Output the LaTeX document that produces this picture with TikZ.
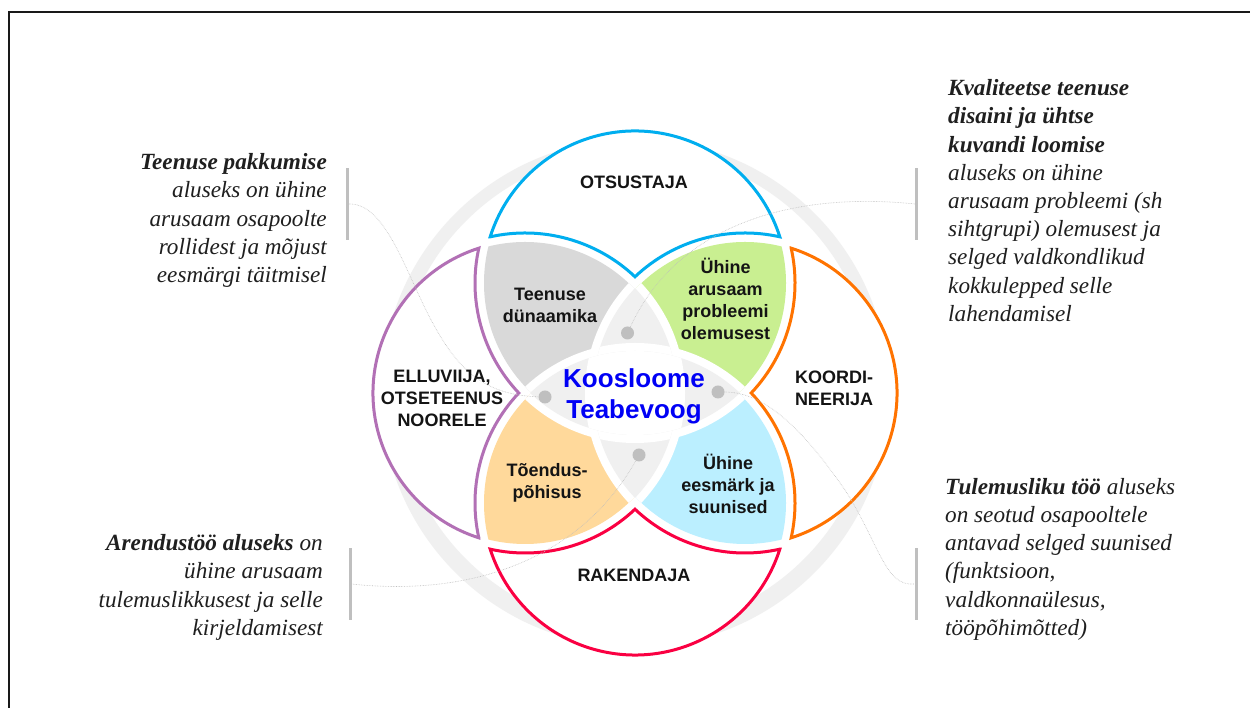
\documentclass[tikz,border=0pt]{standalone}
\usepackage{fontspec}
\setmainfont{Liberation Serif}
\setsansfont{Liberation Sans}
\definecolor{ringgrey}{HTML}{F0F0F0}
\definecolor{dotgrey}{HTML}{BFBFBF}
\definecolor{linkgrey}{HTML}{BEBEBE}
\definecolor{petalgrey}{HTML}{D9D9D9}
\definecolor{petalgreen}{HTML}{C9EF91}
\definecolor{petalpeach}{HTML}{FFD99B}
\definecolor{petalblue}{HTML}{BBEFFF}
\definecolor{lineblue}{HTML}{00AEEF}
\definecolor{linepurple}{HTML}{B270B5}
\definecolor{lineorange}{HTML}{FF7300}
\definecolor{linered}{HTML}{FA0042}
\newcommand\petaloutline{(-144.82,156.17) arc[start angle=162.32,end angle=17.68,radius=152] arc[start angle=77.43,end angle=133.43,radius=160] arc[start angle=46.57,end angle=102.57,radius=160] -- cycle}
\newcommand\colorzone[5]{\begin{scope}\clip (#2) circle[radius=151];\clip (#3) circle[radius=151];\fill[#1] (-300,-300) rectangle (300,300);\fill[white] (#4) circle[radius=160];\fill[white] (#5) circle[radius=160];\end{scope}}
\newcommand\lenszone[4]{\begin{scope}\clip (#1) circle[radius=152];\clip (#2) circle[radius=152];\fill[ringgrey] (-300,-300) rectangle (300,300);\clip (#3) circle[radius=160];\clip (#4) circle[radius=160];\fill[white] (-300,-300) rectangle (300,300);\end{scope}}
\tikzset{
  x=1pt,y=1pt,
  petalline/.style={draw=#1,fill=white,line width=3pt,line join=miter,miter limit=6},
  rolelabel/.style={font=\sffamily\bfseries\fontsize{18}{22}\selectfont,align=center,inner sep=0pt,text=black!92},
  centrelabel/.style={font=\sffamily\bfseries\fontsize{26}{31}\selectfont,align=center,inner sep=0pt,text={rgb,255:red,0;green,0;blue,245}},
  notelabel/.style={font=\itshape\fontsize{23.2}{28.2}\selectfont,inner sep=0pt,text=black!88},
  notebar/.style={fill=dotgrey,minimum width=3pt,minimum height=72pt,inner sep=0pt,outer sep=0pt},
  hubdot/.style={circle,fill=dotgrey,minimum size=13pt,inner sep=0pt},
  linkline/.style={draw=linkgrey,line width=0.6pt,densely dotted},
  frameline/.style={draw=black!90,line width=2pt}
}
\begin{document}
\begin{tikzpicture}
\useasboundingbox (0,0) rectangle (1250,708);
\fill[white] (0,0) rectangle (1250,708);
\begin{scope}[shift={(635,315)}]
  \coordinate (T) at (0,110);
  \coordinate (B) at (0,-110);
  \coordinate (L) at (-110,0);
  \coordinate (R) at (110,0);
  \fill[ringgrey,even odd rule] (0,0) circle[radius=254] (0,3) circle[radius=239];
  \draw[petalline=lineblue] \petaloutline;
  \draw[petalline=linepurple,rotate=90] \petaloutline;
  \draw[petalline=linered,rotate=180] \petaloutline;
  \draw[petalline=lineorange,rotate=270] \petaloutline;
  \colorzone{petalgrey}{L}{T}{R}{B}
  \colorzone{petalgreen}{R}{T}{L}{B}
  \colorzone{petalpeach}{L}{B}{R}{T}
  \colorzone{petalblue}{R}{B}{L}{T}
  \lenszone{L}{R}{T}{B}
  \lenszone{T}{B}{L}{R}
\end{scope}
\begin{scope}[y=-1pt,yshift=708pt]
  \draw[frameline] (9,708) -- (9,12) -- (1250,12);
  \node[notebar] (barTL) at (347.5,204) {};
  \node[notebar] (barTR) at (916.5,204) {};
  \node[notebar] (barBL) at (350,584) {};
  \node[notebar] (barBR) at (916,584) {};
  \node[hubdot] (dotT) at (627.5,333) {};
  \node[hubdot] (dotL) at (545,397) {};
  \node[hubdot] (dotR) at (718,392) {};
  \node[hubdot] (dotB) at (639,455) {};
  \coordinate (bendTL) at (430,318);
  \coordinate (bendBR) at (845,490);
  \draw[linkline] (barTL.east) .. controls (385,203) and (405,270) .. (bendTL) .. controls (455,365) and (480,395) .. (dotL);
  \draw[linkline] (barTR.west) .. controls (800,192) and (680,220) .. (dotT);
  \draw[linkline] (barBL.east) .. controls (470,597) and (580,560) .. (dotB);
  \draw[linkline] (dotR) .. controls (770,392) and (810,440) .. (bendBR) .. controls (880,545) and (885,587) .. (barBR.west);

  \node[rolelabel] (otsustaja) at (634,182) {OTSUSTAJA};
  \node[rolelabel] (rakendaja) at (634,575) {RAKENDAJA};
  \node[rolelabel] (elluviija) at (442,398) {ELLUVIIJA,\\OTSETEENUS\\NOORELE};
  \node[rolelabel] (koordi) at (834,388.5) {KOORDI-\\NEERIJA};
  \node[rolelabel] (dynaamika) at (550,305) {Teenuse\\dünaamika};
  \node[rolelabel] (probleem) at (725.5,298.5) {Ühine\\arusaam\\probleemi\\olemusest};
  \node[rolelabel] (toendus) at (547,483) {Tõendus-\\põhisus};
  \node[rolelabel] (eesmark) at (728,484) {Ühine\\eesmärk ja\\suunised};
  \node[centrelabel] (koosloome) at (634,396) {Koosloome\\Teabevoog};

  \node[notelabel,align=right,anchor=north east] (noteTL) at (327,153.5) {\textbf{Teenuse pakkumise}\\aluseks on ühine\\arusaam osapoolte\\rollidest ja mõjust\\eesmärgi täitmisel};
  \node[notelabel,align=left,anchor=north west] (noteTR) at (948,79.5) {\textbf{Kvaliteetse teenuse}\\\textbf{disaini ja ühtse}\\\textbf{kuvandi loomise}\\aluseks on ühine\\arusaam probleemi (sh\\sihtgrupi) olemusest ja\\selged valdkondlikud\\kokkulepped selle\\lahendamisel};
  \node[notelabel,align=right,anchor=north east] (noteBL) at (323,534.5) {\textbf{Arendustöö aluseks} on\\ühine arusaam\\tulemuslikkusest ja selle\\kirjeldamisest};
  \node[notelabel,align=left,anchor=north west] (noteBR) at (945,478) {\textbf{Tulemusliku töö} aluseks\\on seotud osapooltele\\antavad selged suunised\\(funktsioon,\\valdkonnaülesus,\\tööpõhimõtted)};
\end{scope}
\end{tikzpicture}
\end{document}
